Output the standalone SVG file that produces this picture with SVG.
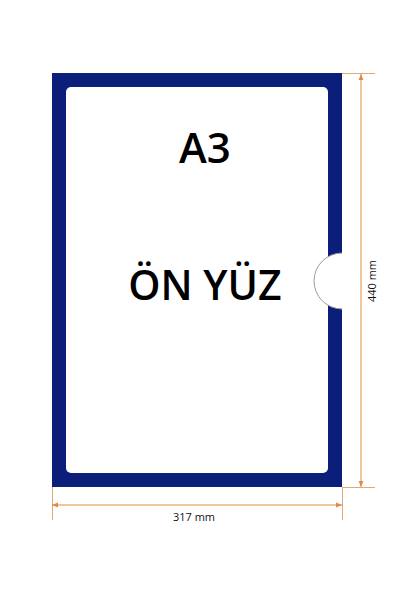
<svg xmlns="http://www.w3.org/2000/svg" width="400" height="600" viewBox="0 0 400 600">
  <defs>
    <marker id="arr" viewBox="0 0 10 10" refX="10" refY="5" markerWidth="6" markerHeight="6" orient="auto-start-reverse" markerUnits="userSpaceOnUse">
      <path d="M0,1 L10,5 L0,9 Z" fill="#e08a45"/>
    </marker>
    <style>
      .dim { stroke: #e08a45; stroke-width: 1; fill: none; }
      .ext { stroke: #e3a77a; stroke-width: 1; fill: none; }
      .lbl { font-family: "Open Sans", "Liberation Sans", sans-serif; font-size: 11px; fill: #111; text-anchor: middle; }
      .big { font-family: "Open Sans", "Liberation Sans", sans-serif; font-weight: 600; fill: #000; text-anchor: middle; }
    </style>
  </defs>
  <rect width="400" height="600" fill="#ffffff"/>
  <g id="frame">
    <rect x="52" y="73" width="290" height="414" fill="#0a1e7a"/>
    <rect x="66" y="87" width="262" height="386" rx="5" ry="5" fill="#ffffff"/>
    <path d="M342,253 A28,28 0 0 0 342,309 Z" fill="#ffffff" stroke="none"/>
    <path d="M342,253 A28,28 0 0 0 342,309" fill="none" stroke="#9a9a9a" stroke-width="1"/>
  </g>
  <g id="title">
    <text class="big" x="205" y="163" font-size="42">A3</text>
    <text class="big" x="205" y="300" font-size="41">ÖN YÜZ</text>
  </g>
  <g id="connectors">
    <line class="ext" x1="342" y1="73.5" x2="375" y2="73.5"/>
    <line class="ext" x1="342" y1="487.5" x2="375" y2="487.5"/>
    <line class="dim" x1="361" y1="74" x2="361" y2="487" marker-start="url(#arr)" marker-end="url(#arr)"/>
    <line class="ext" x1="52.5" y1="487" x2="52.5" y2="520"/>
    <line class="ext" x1="342.5" y1="487" x2="342.5" y2="520"/>
    <line class="dim" x1="52" y1="505" x2="342" y2="505" marker-start="url(#arr)" marker-end="url(#arr)"/>
  </g>
  <g id="labels">
    <text class="lbl" x="194" y="521">317 mm</text>
    <text class="lbl" transform="translate(376,281) rotate(-90)">440 mm</text>
  </g>
</svg>
